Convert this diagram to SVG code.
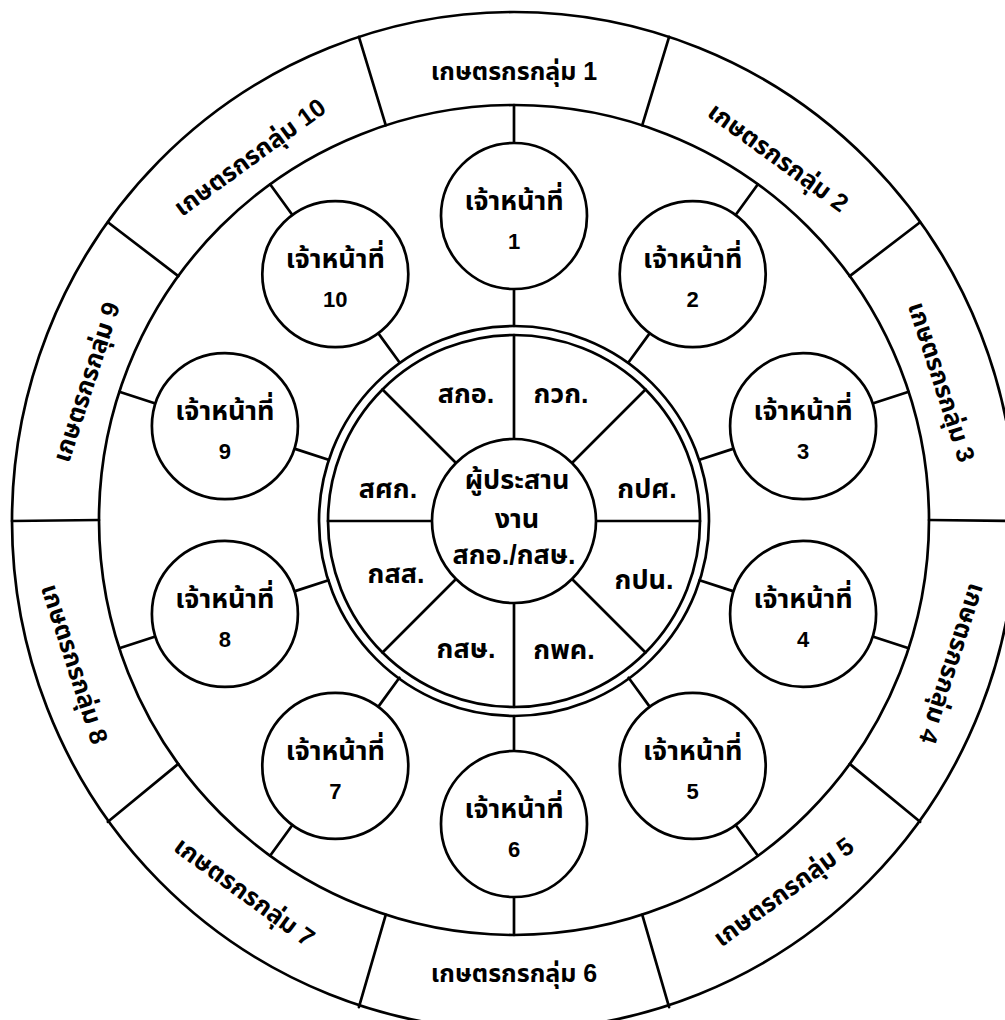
<svg xmlns="http://www.w3.org/2000/svg" width="1005" height="1020" viewBox="0 0 1005 1020">
<style>
.ln{stroke:#000;stroke-width:2.7;fill:none;stroke-linecap:round}
.c{stroke:#000;stroke-width:2.7;fill:#fff}
text{font-family:"Liberation Sans","Noto Sans Thai","Noto Sans","DejaVu Sans",sans-serif;font-weight:bold;fill:#000;text-anchor:middle}
.t{font-size:27px}
.n{font-size:22px}
.g{font-size:25px}
</style>
<rect width="1005" height="1020" fill="#fff"/>
<g id="rings">
<ellipse class="ln" cx="514" cy="521" rx="502" ry="509"/>
<circle class="ln" cx="514" cy="520" r="415"/>
<circle class="ln" cx="514" cy="521" r="195"/>
<circle class="ln" cx="514" cy="521" r="186"/>
</g>
<g id="connectors">
<line class="ln" x1="929" y1="520" x2="1016" y2="521"/>
<line class="ln" x1="849.7" y1="276.1" x2="920.1" y2="222.2"/>
<line class="ln" x1="642.2" y1="125.3" x2="669.1" y2="36.9"/>
<line class="ln" x1="385.8" y1="125.3" x2="358.9" y2="36.9"/>
<line class="ln" x1="178.3" y1="276.1" x2="107.9" y2="222.2"/>
<line class="ln" x1="99" y1="520" x2="12" y2="521"/>
<line class="ln" x1="178.3" y1="763.9" x2="107.9" y2="821.8"/>
<line class="ln" x1="385.8" y1="914.7" x2="358.9" y2="1007.1"/>
<line class="ln" x1="642.2" y1="914.7" x2="669.1" y2="1007.1"/>
<line class="ln" x1="849.7" y1="763.9" x2="920.1" y2="821.8"/>
<line class="ln" x1="514" y1="143" x2="514" y2="105"/>
<line class="ln" x1="735.6" y1="215" x2="757.9" y2="184.3"/>
<line class="ln" x1="872.6" y1="403.5" x2="908.7" y2="391.8"/>
<line class="ln" x1="872.6" y1="636.5" x2="908.7" y2="648.2"/>
<line class="ln" x1="735.6" y1="825" x2="757.9" y2="855.7"/>
<line class="ln" x1="514" y1="897" x2="514" y2="935"/>
<line class="ln" x1="292.4" y1="825" x2="270.1" y2="855.7"/>
<line class="ln" x1="155.4" y1="636.5" x2="119.3" y2="648.2"/>
<line class="ln" x1="155.4" y1="403.5" x2="119.3" y2="391.8"/>
<line class="ln" x1="292.4" y1="215" x2="270.1" y2="184.3"/>
<line class="ln" x1="514" y1="289" x2="514" y2="326"/>
<line class="ln" x1="649.8" y1="333.1" x2="628.6" y2="362.2"/>
<line class="ln" x1="733.7" y1="448.6" x2="699.5" y2="459.7"/>
<line class="ln" x1="733.7" y1="591.4" x2="699.5" y2="580.3"/>
<line class="ln" x1="649.8" y1="706.9" x2="628.6" y2="677.8"/>
<line class="ln" x1="514" y1="751" x2="514" y2="716"/>
<line class="ln" x1="378.2" y1="706.9" x2="399.4" y2="677.8"/>
<line class="ln" x1="294.3" y1="591.4" x2="328.5" y2="580.3"/>
<line class="ln" x1="294.3" y1="448.6" x2="328.5" y2="459.7"/>
<line class="ln" x1="378.2" y1="333.1" x2="399.4" y2="362.2"/>
<line class="ln" x1="596" y1="521" x2="700" y2="521"/>
<line class="ln" x1="572" y1="463" x2="645.5" y2="389.5"/>
<line class="ln" x1="514" y1="439" x2="514" y2="335"/>
<line class="ln" x1="456" y1="463" x2="382.5" y2="389.5"/>
<line class="ln" x1="432" y1="521" x2="328" y2="521"/>
<line class="ln" x1="456" y1="579" x2="382.5" y2="652.5"/>
<line class="ln" x1="514" y1="603" x2="514" y2="707"/>
<line class="ln" x1="572" y1="579" x2="645.5" y2="652.5"/>
</g>
<g id="groups">
<text class="g" transform="translate(514,71)" y="9">เกษตรกรกลุ่ม 1</text>
<text class="g" transform="translate(778.5,156.9) rotate(36)" y="9">เกษตรกรกลุ่ม 2</text>
<text class="g" transform="translate(942,381.9) rotate(72)" y="9">เกษตรกรกลุ่ม 3</text>
<text class="g" transform="translate(953,663.8) rotate(108)" y="9">เกษตรกรกลุ่ม 4</text>
<text class="g" transform="translate(783.2,891.5) rotate(-36)" y="9">เกษตรกรกลุ่ม 5</text>
<text class="g" transform="translate(514,973)" y="9">เกษตรกรกลุ่ม 6</text>
<text class="g" transform="translate(244.8,891.5) rotate(36)" y="9">เกษตรกรกลุ่ม 7</text>
<text class="g" transform="translate(75,663.8) rotate(72)" y="9">เกษตรกรกลุ่ม 8</text>
<text class="g" transform="translate(86,381.9) rotate(-72)" y="9">เกษตรกรกลุ่ม 9</text>
<text class="g" transform="translate(249.5,156.9) rotate(-36)" y="9">เกษตรกรกลุ่ม 10</text>
</g>
<g id="staff1"><circle class="c" cx="514" cy="216" r="73"/><text class="t" x="514" y="210">เจ้าหน้าที่</text><text class="n" x="514" y="249">1</text></g>
<g id="staff2"><circle class="c" cx="692.7" cy="274.1" r="73"/><text class="t" x="692.7" y="268">เจ้าหน้าที่</text><text class="n" x="692.7" y="307">2</text></g>
<g id="staff3"><circle class="c" cx="803.1" cy="426.1" r="73"/><text class="t" x="803.1" y="420">เจ้าหน้าที่</text><text class="n" x="803.1" y="459">3</text></g>
<g id="staff4"><circle class="c" cx="803.1" cy="613.9" r="73"/><text class="t" x="803.1" y="608">เจ้าหน้าที่</text><text class="n" x="803.1" y="647">4</text></g>
<g id="staff5"><circle class="c" cx="692.7" cy="765.9" r="73"/><text class="t" x="692.7" y="760">เจ้าหน้าที่</text><text class="n" x="692.7" y="799">5</text></g>
<g id="staff6"><circle class="c" cx="514" cy="824" r="73"/><text class="t" x="514" y="818">เจ้าหน้าที่</text><text class="n" x="514" y="857">6</text></g>
<g id="staff7"><circle class="c" cx="335.3" cy="765.9" r="73"/><text class="t" x="335.3" y="760">เจ้าหน้าที่</text><text class="n" x="335.3" y="799">7</text></g>
<g id="staff8"><circle class="c" cx="224.9" cy="613.9" r="73"/><text class="t" x="224.9" y="608">เจ้าหน้าที่</text><text class="n" x="224.9" y="647">8</text></g>
<g id="staff9"><circle class="c" cx="224.9" cy="426.1" r="73"/><text class="t" x="224.9" y="420">เจ้าหน้าที่</text><text class="n" x="224.9" y="459">9</text></g>
<g id="staff10"><circle class="c" cx="335.3" cy="274.1" r="73"/><text class="t" x="335.3" y="268">เจ้าหน้าที่</text><text class="n" x="335.3" y="307">10</text></g>
<g id="units">
<text class="t" x="466" y="403">สกอ.</text>
<text class="t" x="561" y="403">กวก.</text>
<text class="t" x="647" y="498">กปศ.</text>
<text class="t" x="388" y="498">สศก.</text>
<text class="t" x="396" y="583">กสส.</text>
<text class="t" x="644" y="589">กปน.</text>
<text class="t" x="466" y="658">กสษ.</text>
<text class="t" x="564" y="659">กพค.</text>
</g>
<g id="center"><circle class="c" cx="514" cy="521" r="82"/>
<text class="t" x="517" y="489">ผู้ประสาน</text>
<text class="t" x="517" y="528">งาน</text>
<text class="t" x="514" y="564">สกอ./กสษ.</text>
</g>
</svg>
